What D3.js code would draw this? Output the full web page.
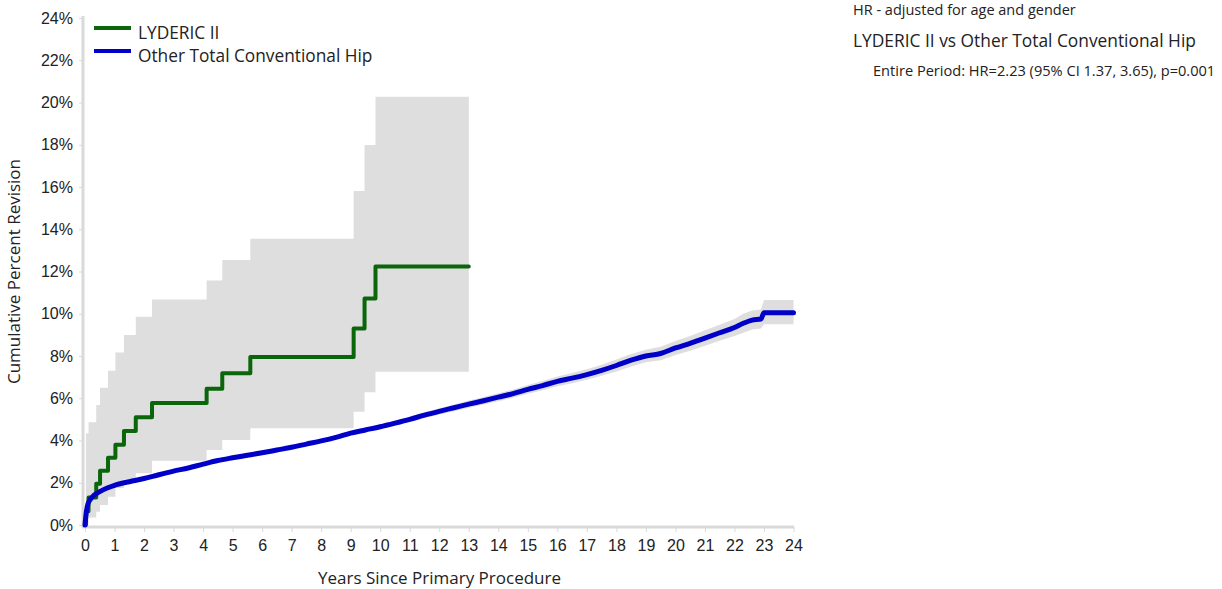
<!DOCTYPE html>
<html lang="en">
<head>
    <meta charset="UTF-8">
    <title>Cumulative Percent Revision - LYDERIC II</title>
    <script src="https://d3js.org/d3.v7.min.js"></script>
    <style>
        body {
            margin: 0;
            font-family: "Open Sans", "Noto Sans", sans-serif;
            background: #fff;
        }
        .tick text {
            font-size: 16px;
            fill: #222;
        }
        .axis-title {
            font-size: 17px;
            fill: #222;
        }
        .legend text {
            font-size: 17.3px;
            fill: #222;
        }
        .note {
            fill: #222;
        }
    </style>
</head>
<body>
    <div id="chart"></div>
    <script>
        // LYDERIC II - Kaplan-Meier steps (years, cumulative % revision, 95% CI)
        const lydTimes = [0, 0.03, 0.12, 0.38, 0.51, 0.78, 1.03, 1.32, 1.72, 2.27, 4.12, 4.65, 5.6, 9.1, 9.47, 9.84, 13.0];
        const lydEst   = [0, 0.65, 1.3, 1.95, 2.57, 3.18, 3.8, 4.45, 5.1, 5.77, 6.45, 7.18, 7.95, 9.3, 10.72, 12.24, 12.24];
        const lydLower = [0, 0.05, 0.36, 0.63, 0.95, 1.34, 1.75, 2.15, 2.45, 3.04, 3.55, 4.02, 4.58, 5.36, 6.28, 7.26, 7.26];
        const lydUpper = [0, 4.34, 4.86, 5.68, 6.5, 7.3, 8.17, 8.99, 9.86, 10.68, 11.57, 12.54, 13.55, 15.81, 17.99, 20.27, 20.27];

        // Other Total Conventional Hip
        const othTimes = [0, 0.02, 0.05, 0.1, 0.2, 0.3, 0.5, 0.75, 1, 1.5, 2, 2.5, 3, 3.5, 4, 4.5, 5, 5.5, 6, 6.5, 7, 7.5, 8, 8.5, 9, 9.5, 10, 10.5, 11, 11.5, 12, 12.5, 13, 13.5, 14, 14.5, 15, 15.5, 16, 16.5, 17, 17.5, 18, 18.5, 19, 19.5, 20, 20.5, 21, 21.5, 22, 22.3, 22.6, 22.9, 23.0, 24];
        const othEst   = [0, 0.3, 0.65, 1.0, 1.25, 1.4, 1.58, 1.75, 1.88, 2.05, 2.2, 2.38, 2.55, 2.7, 2.88, 3.05, 3.18, 3.3, 3.42, 3.55, 3.68, 3.83, 3.98, 4.15, 4.35, 4.5, 4.65, 4.82, 5.0, 5.2, 5.38, 5.55, 5.72, 5.88, 6.05, 6.22, 6.42, 6.6, 6.8, 6.95, 7.12, 7.32, 7.55, 7.8, 8.0, 8.12, 8.38, 8.6, 8.85, 9.1, 9.35, 9.55, 9.7, 9.75, 10.05, 10.05];
        const othLower = [0, 0.25, 0.58, 0.93, 1.18, 1.33, 1.52, 1.69, 1.82, 1.99, 2.14, 2.32, 2.49, 2.64, 2.82, 2.98, 3.11, 3.23, 3.35, 3.47, 3.6, 3.74, 3.89, 4.05, 4.25, 4.39, 4.54, 4.7, 4.87, 5.06, 5.23, 5.39, 5.55, 5.7, 5.86, 6.02, 6.21, 6.38, 6.57, 6.71, 6.87, 7.06, 7.27, 7.5, 7.7, 7.8, 8.05, 8.25, 8.48, 8.72, 8.95, 9.1, 9.25, 9.3, 9.5, 9.5];
        const othUpper = [0, 0.35, 0.72, 1.07, 1.32, 1.47, 1.64, 1.81, 1.94, 2.11, 2.26, 2.44, 2.61, 2.76, 2.94, 3.12, 3.25, 3.37, 3.49, 3.63, 3.76, 3.92, 4.07, 4.25, 4.45, 4.61, 4.76, 4.94, 5.13, 5.34, 5.53, 5.71, 5.89, 6.06, 6.24, 6.42, 6.63, 6.82, 7.03, 7.19, 7.37, 7.58, 7.83, 8.1, 8.3, 8.44, 8.71, 8.95, 9.22, 9.48, 9.75, 10.0, 10.15, 10.2, 10.65, 10.65];

        const seriesNames = ["LYDERIC II", "Other Total Conventional Hip"];
        const seriesColors = ["#0b660b", "#0000c8"];
        const xTicks = d3.range(0, 25, 1);
        const yTicks = d3.range(0, 25, 2);

        const noteLines = [
            "HR - adjusted for age and gender",
            "LYDERIC II vs Other Total Conventional Hip",
            "Entire Period: HR=2.23 (95% CI 1.37, 3.65), p=0.001"
        ];

        const width = 1222;
        const height = 589;
        const margin = { top: 18, right: 428, bottom: 64, left: 85 };

        const svg = d3.select("#chart")
            .append("svg")
            .attr("width", width)
            .attr("height", height);

        const x = d3.scaleLinear()
            .domain([0, 24])
            .range([margin.left, width - margin.right - 0.5]);

        const y = d3.scaleLinear()
            .domain([0, 24])
            .range([height - margin.bottom, margin.top]);

        const lyd = lydTimes.map((t, i) => ({ t, est: lydEst[i], lo: lydLower[i], hi: lydUpper[i] }));
        const oth = othTimes.map((t, i) => ({ t, est: othEst[i], lo: othLower[i], hi: othUpper[i] }));

        // confidence bands
        const stepArea = d3.area()
            .curve(d3.curveStepAfter)
            .x(d => x(d.t))
            .y0(d => y(d.lo))
            .y1(d => y(d.hi));

        const smoothArea = d3.area()
            .x(d => x(d.t))
            .y0(d => y(d.lo))
            .y1(d => y(d.hi));

        svg.append("path")
            .datum(lyd.slice(1))
            .attr("fill", "#dedede")
            .attr("d", stepArea);

        svg.append("path")
            .datum(oth)
            .attr("fill", "#dedede")
            .attr("d", smoothArea);

        // axes
        const xAxis = svg.append("g")
            .attr("transform", `translate(0,${height - margin.bottom + 2})`)
            .call(d3.axisBottom(x).tickValues(xTicks).tickSize(5).tickSizeOuter(0).tickPadding(8).tickFormat(d3.format("d")));

        const yAxis = svg.append("g")
            .attr("transform", `translate(${margin.left - 2},0)`)
            .call(d3.axisLeft(y).tickValues(yTicks).tickSize(4).tickSizeOuter(0).tickPadding(6).tickFormat(d => d + "%"));

        [xAxis, yAxis].forEach(g => {
            g.select(".domain").attr("stroke", "#d9d9d9").attr("stroke-width", 3);
            g.selectAll(".tick line").attr("stroke", "#d9d9d9");
            g.selectAll(".tick text").attr("fill", "#222");
        });
        xAxis.select(".domain").attr("d", `M${margin.left - 3},0H${width - margin.right}`);
        yAxis.select(".domain").attr("d", `M0,${height - margin.bottom + 3}V${margin.top - 2}`);

        // lines
        const stepLine = d3.line()
            .curve(d3.curveStepAfter)
            .x(d => x(d.t))
            .y(d => y(d.est));

        const smoothLine = d3.line()
            .curve(d3.curveMonotoneX)
            .x(d => x(d.t))
            .y(d => y(d.est));

        svg.append("path")
            .datum(lyd)
            .attr("fill", "none")
            .attr("stroke", seriesColors[0])
            .attr("stroke-width", 4)
            .attr("stroke-linejoin", "round")
            .attr("stroke-linecap", "round")
            .attr("d", stepLine);

        svg.append("path")
            .datum(oth)
            .attr("fill", "none")
            .attr("stroke", seriesColors[1])
            .attr("stroke-width", 5)
            .attr("stroke-linejoin", "round")
            .attr("stroke-linecap", "round")
            .attr("d", smoothLine);

        // axis titles
        svg.append("text")
            .attr("class", "axis-title")
            .attr("x", (margin.left + width - margin.right) / 2)
            .attr("y", 584)
            .attr("text-anchor", "middle")
            .text("Years Since Primary Procedure");

        svg.append("text")
            .attr("class", "axis-title")
            .attr("transform", `translate(20,${(margin.top + height - margin.bottom) / 2}) rotate(-90)`)
            .attr("text-anchor", "middle")
            .text("Cumulative Percent Revision");

        // legend
        const legend = svg.selectAll(".legend")
            .data(seriesNames)
            .enter()
            .append("g")
            .attr("class", "legend")
            .attr("transform", (d, i) => `translate(94,${28 + i * 23})`);

        legend.append("line")
            .attr("x1", 0)
            .attr("x2", 37)
            .attr("stroke", (d, i) => seriesColors[i])
            .attr("stroke-width", 4);

        legend.append("text")
            .attr("x", 44)
            .attr("y", 11)
            .text(d => d);

        // hazard ratio notes
        svg.append("text").attr("class", "note")
            .attr("x", 853).attr("y", 15)
            .style("font-size", "14.5px")
            .text(noteLines[0]);
        svg.append("text").attr("class", "note")
            .attr("x", 853).attr("y", 47)
            .style("font-size", "17.35px")
            .text(noteLines[1]);
        svg.append("text").attr("class", "note")
            .attr("x", 873).attr("y", 76)
            .style("font-size", "14.6px")
            .text(noteLines[2]);
    </script>
</body>
</html>
